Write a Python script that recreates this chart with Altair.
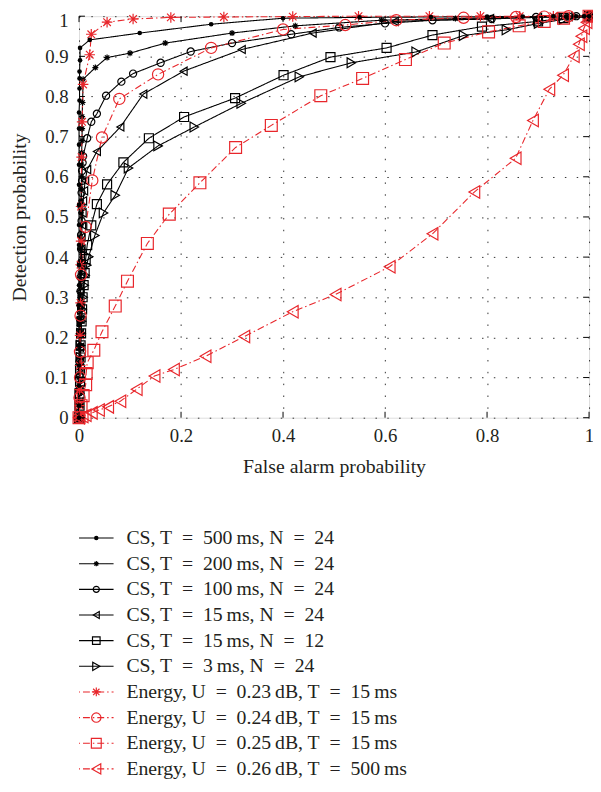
import altair as alt
import pandas as pd

# ---------------- data ----------------
SP = "\u2002"   # wide space around "="
TH = "\u2009"   # thin space before units
labels = [
    f"CS, T{SP}={SP}500{TH}ms, N{SP}={SP}24",
    f"CS, T{SP}={SP}200{TH}ms, N{SP}={SP}24",
    f"CS, T{SP}={SP}100{TH}ms, N{SP}={SP}24",
    f"CS, T{SP}={SP}15{TH}ms, N{SP}={SP}24",
    f"CS, T{SP}={SP}15{TH}ms, N{SP}={SP}12",
    f"CS, T{SP}={SP}3{TH}ms, N{SP}={SP}24",
    f"Energy, U{SP}={SP}0.23{TH}dB, T{SP}={SP}15{TH}ms",
    f"Energy, U{SP}={SP}0.24{TH}dB, T{SP}={SP}15{TH}ms",
    f"Energy, U{SP}={SP}0.25{TH}dB, T{SP}={SP}15{TH}ms",
    f"Energy, U{SP}={SP}0.26{TH}dB, T{SP}={SP}500{TH}ms",
]

cs500_x = [0, 0, 0, 0, 0, 0, 0, 0, 0, 0, 0, 0, 0, 0, 0, 0, 0, 0.001, 0.001, 0.001, 0.001, 0.002, 0.002,
           0.021, 0.119, 0.259, 0.40, 0.55, 0.69, 0.80, 0.87, 0.93, 0.955, 0.975, 0.99, 1.0]
cs500_y = [0, 0.03, 0.08, 0.13, 0.18, 0.23, 0.28, 0.33, 0.38, 0.43, 0.48, 0.53, 0.58, 0.63, 0.68, 0.72, 0.76,
           0.79, 0.82, 0.845, 0.862, 0.89, 0.921, 0.941, 0.958, 0.980, 0.995, 0.997, 0.998, 0.999, 0.999,
           1.0, 1.0, 1.0, 1.0, 1.0]

cs200_x = [0, 0, 0.001, 0.001, 0.001, 0.001, 0.002, 0.002, 0.002, 0.002, 0.002, 0.003, 0.003, 0.003,
           0.003, 0.003, 0.004, 0.004, 0.004, 0.004, 0.005, 0.005, 0.005, 0.006, 0.006, 0.006, 0.007,
           0.008, 0.032, 0.055, 0.10, 0.169, 0.30, 0.424, 0.593, 0.738, 0.864, 0.93, 0.97, 1.0]
cs200_y = [0, 0.03, 0.06, 0.09, 0.12, 0.15, 0.18, 0.21, 0.24, 0.27, 0.30, 0.33, 0.36, 0.39,
           0.42, 0.45, 0.48, 0.51, 0.54, 0.57, 0.60, 0.63, 0.66, 0.69, 0.72, 0.75, 0.785,
           0.843, 0.872, 0.897, 0.908, 0.933, 0.958, 0.976, 0.990, 0.994, 0.998, 0.999, 1.0, 1.0]

cs100_x = [0, 0, 0.001, 0.001, 0.001, 0.002, 0.002, 0.002, 0.003, 0.003, 0.003, 0.004, 0.004, 0.004,
           0.005, 0.005, 0.005, 0.006, 0.006, 0.007, 0.008, 0.016, 0.024, 0.035, 0.053, 0.083, 0.106,
           0.16, 0.219, 0.30, 0.416, 0.51, 0.60, 0.693, 0.809, 0.896, 0.94, 0.975, 1.0]
cs100_y = [0, 0.035, 0.07, 0.105, 0.14, 0.175, 0.21, 0.245, 0.28, 0.315, 0.35, 0.385, 0.42, 0.455,
           0.49, 0.525, 0.56, 0.59, 0.615, 0.635, 0.651, 0.696, 0.737, 0.757, 0.802, 0.837, 0.857,
           0.884, 0.912, 0.933, 0.955, 0.972, 0.982, 0.990, 0.993, 0.998, 0.999, 1.0, 1.0]

cs15_24_x = [0, 0.001, 0.001, 0.001, 0.002, 0.002, 0.002, 0.003, 0.003, 0.003, 0.004, 0.004, 0.005, 0.005,
             0.006, 0.007, 0.008, 0.010, 0.012, 0.016, 0.035, 0.081, 0.126, 0.205, 0.319, 0.458, 0.619,
             0.806, 0.90, 0.96, 1.0]
cs15_24_y = [0, 0.035, 0.07, 0.105, 0.14, 0.175, 0.21, 0.245, 0.28, 0.315, 0.35, 0.385, 0.42, 0.45,
             0.48, 0.51, 0.54, 0.565, 0.59, 0.618, 0.663, 0.724, 0.806, 0.863, 0.917, 0.958, 0.987,
             0.994, 0.997, 0.999, 1.0]

cs15_12_x = [0, 0.001, 0.001, 0.002, 0.002, 0.003, 0.003, 0.004, 0.005, 0.006, 0.007, 0.009, 0.011, 0.013,
             0.016, 0.024, 0.035, 0.055, 0.087, 0.137, 0.206, 0.306, 0.401, 0.493, 0.603, 0.693, 0.79,
             0.90, 0.95, 1.0]
cs15_12_y = [0, 0.03, 0.06, 0.09, 0.12, 0.15, 0.18, 0.21, 0.24, 0.27, 0.30, 0.33, 0.36, 0.395,
             0.43, 0.479, 0.532, 0.581, 0.636, 0.696, 0.749, 0.796, 0.853, 0.898, 0.921, 0.953, 0.974,
             0.987, 0.995, 1.0]

cs3_x = [0, 0.001, 0.001, 0.002, 0.002, 0.003, 0.003, 0.004, 0.005, 0.006, 0.008, 0.010, 0.012, 0.015,
         0.019, 0.031, 0.048, 0.071, 0.097, 0.155, 0.226, 0.318, 0.432, 0.534, 0.661, 0.754, 0.838,
         0.901, 0.95, 1.0]
cs3_y = [0, 0.03, 0.06, 0.09, 0.12, 0.15, 0.18, 0.21, 0.24, 0.27, 0.30, 0.33, 0.355, 0.38,
         0.401, 0.454, 0.51, 0.554, 0.622, 0.677, 0.724, 0.783, 0.849, 0.884, 0.911, 0.952, 0.966,
         0.982, 0.992, 1.0]

en23_x = [0, 0.001, 0.001, 0.002, 0.002, 0.003, 0.003, 0.004, 0.004, 0.005, 0.006, 0.008, 0.021, 0.024,
          0.055, 0.106, 0.18, 0.284, 0.419, 0.548, 0.687, 0.787, 0.864, 0.93, 1.0]
en23_y = [0, 0.03, 0.07, 0.13, 0.205, 0.286, 0.381, 0.44, 0.526, 0.649, 0.737, 0.83, 0.904, 0.955,
          0.985, 0.993, 0.997, 0.998, 0.999, 1.0, 1.0, 1.0, 1.0, 1.0, 1.0]

en24_x = [0, 0.001, 0.002, 0.002, 0.003, 0.004, 0.013, 0.026, 0.045, 0.079, 0.155, 0.259, 0.40, 0.522,
          0.622, 0.754, 0.857, 0.912, 0.96, 1.0]
en24_y = [0, 0.05, 0.10, 0.164, 0.254, 0.356, 0.475, 0.591, 0.698, 0.794, 0.855, 0.921, 0.967, 0.978,
          0.990, 0.996, 0.998, 0.999, 1.0, 1.0]

en25_x = [0, 0.004, 0.008, 0.013, 0.014, 0.016, 0.029, 0.045, 0.071, 0.095, 0.134, 0.177, 0.237, 0.307,
          0.377, 0.474, 0.556, 0.64, 0.716, 0.803, 0.863, 0.912, 0.95, 1.0]
en25_y = [0, 0.03, 0.055, 0.082, 0.11, 0.137, 0.168, 0.214, 0.278, 0.34, 0.434, 0.507, 0.585, 0.673,
          0.728, 0.802, 0.845, 0.892, 0.933, 0.961, 0.976, 0.987, 0.995, 1.0]

en26_x = [0, 0.007, 0.013, 0.025, 0.039, 0.057, 0.081, 0.113, 0.148, 0.186, 0.248, 0.324, 0.419, 0.503,
          0.609, 0.693, 0.775, 0.856, 0.89, 0.922, 0.949, 0.97, 0.98, 0.985, 0.99, 0.995, 1.0]
en26_y = [0, 0.003, 0.006, 0.012, 0.019, 0.027, 0.041, 0.071, 0.104, 0.12, 0.153, 0.202, 0.264, 0.307,
          0.376, 0.458, 0.562, 0.646, 0.74, 0.818, 0.853, 0.90, 0.93, 0.95, 0.97, 0.985, 1.0]

series_x = [cs500_x, cs200_x, cs100_x, cs15_24_x, cs15_12_x, cs3_x, en23_x, en24_x, en25_x, en26_x]
series_y = [cs500_y, cs200_y, cs100_y, cs15_24_y, cs15_12_y, cs3_y, en23_y, en24_y, en25_y, en26_y]

x_ticks = [0, 0.2, 0.4, 0.6, 0.8, 1]
y_ticks = [0, 0.1, 0.2, 0.3, 0.4, 0.5, 0.6, 0.7, 0.8, 0.9, 1]

# ---------------- styles ----------------
BLACK = "#000000"
RED = "#e8262b"
TEXT = "#231f20"
FONT = "Liberation Serif"
ASTER = "M0,-1L0,1M-1,0L1,0M-0.72,-0.72L0.72,0.72M-0.72,0.72L0.72,-0.72"
SOLID = [1, 0]
DASHDOT = [7, 3, 1.5, 3]

colors = [BLACK] * 6 + [RED] * 4
dashes = [SOLID] * 6 + [DASHDOT] * 4
shapes = ["circle", ASTER, "circle", "triangle-left", "square", "triangle-right",
          ASTER, "circle", "square", "triangle-left"]
sizes = [22, 160, 70, 95, 70, 95, 160, 70, 70, 95]
leg_sizes = [18, 110, 45, 65, 45, 65, 110, 45, 45, 65]

W, H = 517, 407

rows = []
for lab, xs, ys in zip(labels, series_x, series_y):
    assert len(xs) == len(ys), lab
    for i, (xv, yv) in enumerate(zip(xs, ys)):
        rows.append({"series": lab, "i": i, "x": xv, "y": yv})
df = pd.DataFrame(rows)

leg_df = pd.DataFrame({"series": labels, "idx": list(range(len(labels)))})
xt_df = pd.DataFrame({"t": x_ticks})
yt_df = pd.DataFrame({"t": y_ticks})

xscale = alt.Scale(domain=[0, 1], nice=False, zero=False)
yscale = alt.Scale(domain=[0, 1], nice=False, zero=False)
xaxis = alt.Axis(values=x_ticks, format="~g", title="False alarm probability", grid=True,
                 gridDash=[1.5, 10.5], gridColor="#333333", gridWidth=1, ticks=False, domain=False,
                 labelFont=FONT, labelFontSize=19, labelColor=TEXT, labelPadding=9,
                 titleFont=FONT, titleFontSize=20, titleFontWeight="normal", titleColor=TEXT,
                 titlePadding=12, labelFlush=False)
yaxis = alt.Axis(values=y_ticks, format="~g", title="Detection probability", grid=True,
                 gridDash=[1.5, 10.5], gridColor="#333333", gridWidth=1, ticks=False, domain=False,
                 labelFont=FONT, labelFontSize=19, labelColor=TEXT, labelPadding=11,
                 labelOffset=alt.condition("datum.value == 1", alt.value(4), alt.value(0)),
                 titleFont=FONT, titleFontSize=20, titleFontWeight="normal", titleColor=TEXT,
                 titlePadding=15, labelFlush=False)


def X(f):
    return alt.X(f, type="quantitative", scale=xscale, axis=xaxis)


def Y(f):
    return alt.Y(f, type="quantitative", scale=yscale, axis=yaxis)


col = alt.Color("series:N", scale=alt.Scale(domain=labels, range=colors), legend=None)
dash = alt.StrokeDash("series:N", scale=alt.Scale(domain=labels, range=dashes), legend=None)
shp = alt.Shape("series:N", scale=alt.Scale(domain=labels, range=shapes), legend=None)
siz = alt.Size("series:N", scale=alt.Scale(domain=labels, range=sizes), legend=None)

base = alt.Chart(df)

lines = base.mark_line(strokeWidth=1.1).encode(
    x=X("x"), y=Y("y"), color=col, strokeDash=dash, detail="series:N", order="i:Q"
)
open_pts = base.transform_filter(alt.datum.series != labels[0]).mark_point(
    filled=False, strokeWidth=1.2, opacity=1
).encode(x=X("x"), y=Y("y"), color=col, shape=shp, size=siz)
fill_pts = base.transform_filter(alt.datum.series == labels[0]).mark_point(
    filled=True, shape="circle", size=22, opacity=1, color=BLACK
).encode(x=X("x"), y=Y("y"))

# inward ticks on all four sides
tick_b = alt.Chart(xt_df).mark_rule(color=BLACK, strokeWidth=1).encode(
    x=X("t"), y=alt.value(H), y2=alt.value(H - 6))
tick_t = alt.Chart(xt_df).mark_rule(color=BLACK, strokeWidth=1).encode(
    x=X("t"), y=alt.value(0), y2=alt.value(6))
tick_l = alt.Chart(yt_df).mark_rule(color=BLACK, strokeWidth=1).encode(
    y=Y("t"), x=alt.value(0), x2=alt.value(6))
tick_r = alt.Chart(yt_df).mark_rule(color=BLACK, strokeWidth=1).encode(
    y=Y("t"), x=alt.value(W), x2=alt.value(W - 6))

# legend below the plot
LEG_Y0 = 529
LEG_STEP = 26
leg_base = alt.Chart(leg_df).transform_calculate(py=f"{LEG_Y0} + datum.idx * {LEG_STEP}")
leg_line = leg_base.mark_rule(strokeWidth=1.1, strokeDashOffset=10.5).encode(
    x=alt.value(0), x2=alt.value(35), y=alt.Y("py:Q", scale=None, axis=None),
    color=col, strokeDash=dash)
leg_open = leg_base.transform_filter(alt.datum.idx > 0).mark_point(
    filled=False, strokeWidth=1.2, opacity=1).encode(
    x=alt.value(17.5), y=alt.Y("py:Q", scale=None, axis=None), color=col, shape=shp,
    size=alt.Size("series:N", scale=alt.Scale(domain=labels, range=leg_sizes), legend=None))
leg_fill = leg_base.transform_filter(alt.datum.idx == 0).mark_point(
    filled=True, shape="circle", size=20, opacity=1, color=BLACK).encode(
    x=alt.value(17.5), y=alt.Y("py:Q", scale=None, axis=None))
leg_text = leg_base.mark_text(align="left", baseline="middle", font=FONT, fontSize=20, color=TEXT).encode(
    x=alt.value(48), y=alt.Y("py:Q", scale=None, axis=None), text="series:N")

chart = alt.layer(
    lines, open_pts, fill_pts, tick_b, tick_t, tick_l, tick_r,
    leg_line, leg_open, leg_fill, leg_text
).properties(
    width=W, height=H,
    autosize=alt.AutoSizeParams(type="none"),
    padding={"left": 72, "top": 3, "right": 4, "bottom": 366},
).resolve_scale(size="independent").configure_view(stroke=BLACK, strokeWidth=1).configure(background="white")

chart.save("out.html", embed_options={"renderer": "svg", "actions": False})
